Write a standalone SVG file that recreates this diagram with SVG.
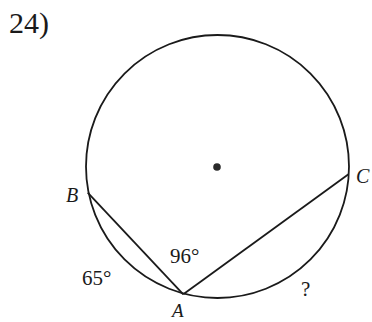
<svg xmlns="http://www.w3.org/2000/svg" width="372" height="322" viewBox="0 0 372 322">
<style>
.ln{fill:none;stroke:#1a1a1a;stroke-width:1.8}
.t{font-family:"Liberation Serif","Times New Roman",serif;fill:#1a1a1a}
.i{font-style:italic}
</style>
<rect width="372" height="322" fill="#ffffff"/>
<text class="t" x="9" y="33" font-size="30">24)</text>
<g id="circle">
<circle class="ln" cx="217.5" cy="166.5" r="131.5"/>
<circle cx="217" cy="167" r="3.8" fill="#2a2a2a"/>
</g>
<g id="chords">
<line class="ln" x1="87.7" y1="192.7" x2="183.3" y2="294.3"/>
<line class="ln" x1="183.3" y1="294.3" x2="348.5" y2="174.3"/>
</g>
<g id="labels">
<text class="t i" x="66" y="201.5" font-size="20">B</text>
<text class="t i" x="356" y="183" font-size="20">C</text>
<text class="t i" x="172" y="317" font-size="19">A</text>
<text class="t" x="82" y="285" font-size="21">65°</text>
<text class="t" x="170" y="263" font-size="21">96°</text>
<text class="t" x="301" y="296" font-size="21">?</text>
</g>
</svg>
